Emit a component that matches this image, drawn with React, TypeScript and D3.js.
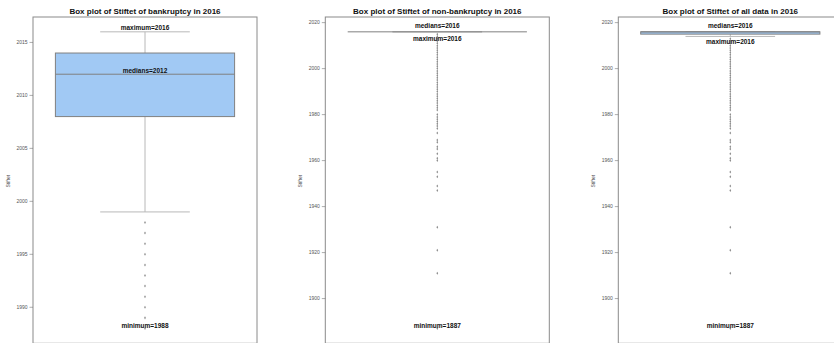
import React from "react";
import * as d3 from "d3";

const TITLES = [
  "Box plot of Stiftet of bankruptcy in 2016",
  "Box plot of Stiftet of non-bankruptcy in 2016",
  "Box plot of Stiftet of all data in 2016",
];
const Y_LABEL = "Stiftet";
const Q1 = [2008, 2016, 2015];
const MEDIANS = [2012, 2016, 2016];
const Q3 = [2014, 2016, 2016];
const WHISKER_LOW = [1999, 2016, 2014];
const WHISKER_HIGH = [2016, 2016, 2016];
const MINIMUMS = [1988, 1887, 1887];
const MAXIMUMS = [2016, 2016, 2016];

const OUTLIERS_BANKRUPTCY = [1998, 1997, 1996, 1995, 1994, 1993, 1992, 1991, 1990, 1989, 1988];
const OUTLIERS_NON_BANKRUPTCY = [
  2015, 2014, 2013, 2012, 2011, 2010, 2009, 2008, 2007, 2006, 2005, 2004, 2003, 2002, 2001, 2000,
  1999, 1998, 1997, 1996, 1995, 1994, 1993, 1992, 1991, 1990, 1989, 1988, 1987, 1986, 1985, 1984,
  1983, 1982, 1980, 1979, 1978, 1977, 1976, 1975, 1974, 1972, 1969, 1968, 1966, 1965, 1963, 1961,
  1960, 1955, 1953, 1949, 1947, 1931, 1921, 1911, 1887,
];
const OUTLIERS_ALL = [
  2013, 2012, 2011, 2010, 2009, 2008, 2007, 2006, 2005, 2004, 2003, 2002, 2001, 2000,
  1999, 1998, 1997, 1996, 1995, 1994, 1993, 1992, 1991, 1990, 1989, 1988, 1987, 1986, 1985, 1984,
  1983, 1982, 1980, 1979, 1978, 1977, 1976, 1975, 1974, 1972, 1969, 1968, 1966, 1965, 1963, 1961,
  1960, 1955, 1953, 1949, 1947, 1931, 1921, 1911, 1887,
];
const OUTLIERS = [OUTLIERS_BANKRUPTCY, OUTLIERS_NON_BANKRUPTCY, OUTLIERS_ALL];

const TICKS_BANKRUPTCY = [1990, 1995, 2000, 2005, 2010, 2015];
const TICKS_WIDE = [1900, 1920, 1940, 1960, 1980, 2000, 2020];
const TICKS = [TICKS_BANKRUPTCY, TICKS_WIDE, TICKS_WIDE];

// layout (not data)
const W = 834;
const H = 343;
const AX_LEFTS = [33, 325.3, 618.3];
const AX_W = 224;
const AX_TOP = 17;
const AX_BOTTOM = 343.3;
// label baseline offsets in px relative to their value
const LABEL_OFF = [
  { max: -1.4, med: -1.1, min: -0.2 },
  { max: 9.6, med: -3.7, min: -0.4 },
  { max: 12.3, med: -3.7, min: -0.4 },
];

const FONT = "'Liberation Sans', Arial, sans-serif";
const BOX_FILL = "#a1c9f4";
const BOX_STROKE = "#808080";
const WHISK = "#b8b8b8";
const SPINE = "#8a8a8a";

function Panel({ i }: { i: number }) {
  const left = AX_LEFTS[i];
  const lo = MINIMUMS[i];
  const hi = MAXIMUMS[i];
  const pad = (hi - lo) * 0.05;
  const y = d3.scaleLinear().domain([lo - pad, hi + pad]).range([AX_BOTTOM, AX_TOP]);
  const x = d3.scaleBand().domain(["0"]).range([left, left + AX_W]).paddingInner(0.2).paddingOuter(0.1);
  const bw = x.bandwidth();
  const bx = x("0") as number;
  const cx = bx + bw / 2;
  const capW = bw / 2;
  const diamond = d3.symbol().type(d3.symbolDiamond).size(2.6)() as string;
  const ticks = TICKS[i].filter((t) => t >= y.domain()[0] && t <= y.domain()[1]);
  const off = LABEL_OFF[i];
  const labelStyle = { fontFamily: FONT, fontSize: 6.5, fontWeight: 700, fill: "#111" } as const;
  return (
    <g>
      {/* spines */}
      <rect x={left} y={AX_TOP} width={AX_W} height={AX_BOTTOM - AX_TOP} fill="white" stroke={SPINE} strokeWidth={1} />
      {/* ticks */}
      {ticks.map((t) => (
        <g key={t}>
          <line x1={left - 3.5} x2={left} y1={y(t)} y2={y(t)} stroke="#777" strokeWidth={0.6} />
          <text x={left - 5.5} y={y(t)} dy="0.35em" textAnchor="end" fontFamily={FONT} fontSize={5} fill="#555">
            {t}
          </text>
        </g>
      ))}
      <text
        transform={`translate(${left - 23},${(AX_TOP + AX_BOTTOM) / 2 + 1}) rotate(-90)`}
        textAnchor="middle"
        fontFamily={FONT}
        fontSize={5}
        fill="#444"
      >
        {Y_LABEL}
      </text>
      <text x={left + AX_W / 2} y={14} textAnchor="middle" fontFamily={FONT} fontSize={8} fontWeight={700} fill="#111">
        {TITLES[i]}
      </text>
      {/* whiskers */}
      <line x1={cx} x2={cx} y1={y(Q3[i])} y2={y(WHISKER_HIGH[i])} stroke={WHISK} strokeWidth={1} />
      <line x1={cx} x2={cx} y1={y(Q1[i])} y2={y(WHISKER_LOW[i])} stroke={WHISK} strokeWidth={1} />
      <line x1={cx - capW / 2} x2={cx + capW / 2} y1={y(WHISKER_HIGH[i])} y2={y(WHISKER_HIGH[i])} stroke={WHISK} strokeWidth={1} />
      <line x1={cx - capW / 2} x2={cx + capW / 2} y1={y(WHISKER_LOW[i])} y2={y(WHISKER_LOW[i])} stroke={WHISK} strokeWidth={1} />
      {/* box */}
      <rect
        x={bx}
        y={y(Q3[i])}
        width={bw}
        height={Math.max(0, y(Q1[i]) - y(Q3[i]))}
        fill={BOX_FILL}
        stroke={BOX_STROKE}
        strokeWidth={1}
      />
      <line x1={bx} x2={bx + bw} y1={y(MEDIANS[i])} y2={y(MEDIANS[i])} stroke={BOX_STROKE} strokeWidth={1} />
      {/* outliers */}
      {OUTLIERS[i].map((v, k) => (
        <path key={k} d={diamond} transform={`translate(${cx},${y(v)})`} fill="#8c8c8c" />
      ))}
      {/* annotations */}
      <text x={cx} y={y(MAXIMUMS[i]) + off.max} textAnchor="middle" {...labelStyle}>
        {`maximum=${MAXIMUMS[i]}`}
      </text>
      <text x={cx} y={y(MEDIANS[i]) + off.med} textAnchor="middle" {...labelStyle}>
        {`medians=${MEDIANS[i]}`}
      </text>
      <text x={cx} y={y(MINIMUMS[i]) + off.min} textAnchor="middle" {...labelStyle}>
        {`minimum=${MINIMUMS[i]}`}
      </text>
    </g>
  );
}

export default function App() {
  return (
    <svg
      width={W}
      height={H}
      viewBox={`0 0 ${W} ${H}`}
      style={{ position: "absolute", left: 0, top: 0, display: "block", background: "white" }}
    >
      <rect x={0} y={0} width={W} height={H} fill="white" />
      {[0, 1, 2].map((i) => (
        <Panel key={i} i={i} />
      ))}
    </svg>
  );
}
